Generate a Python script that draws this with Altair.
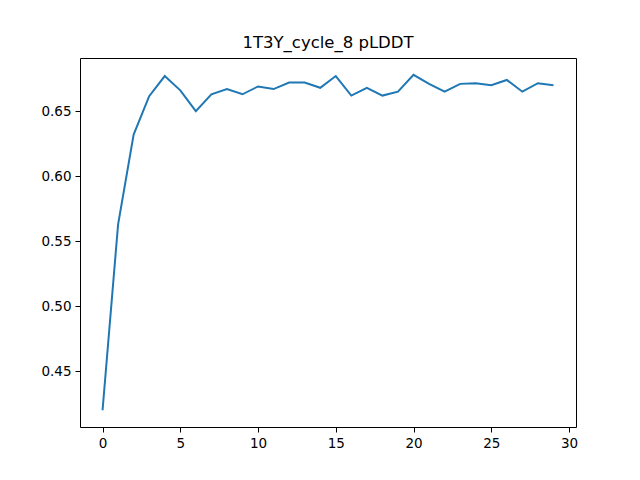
import altair as alt
import pandas as pd

cycles = list(range(30))
plddt = [0.420, 0.563, 0.632, 0.6615, 0.677, 0.666, 0.650, 0.663, 0.667, 0.663,
         0.669, 0.667, 0.672, 0.672, 0.668, 0.677, 0.662, 0.668, 0.662, 0.665,
         0.678, 0.671, 0.665, 0.671, 0.6715, 0.670, 0.674, 0.665, 0.6715, 0.670]
x_ticks = [0, 5, 10, 15, 20, 25, 30]
y_ticks = [0.45, 0.50, 0.55, 0.60, 0.65]

df = pd.DataFrame({'cycle': cycles, 'plddt': plddt})

axis_style = dict(grid=False, domain=False, tickColor='black', labelColor='black',
                  labelFontSize=13.5, labelFont='DejaVu Sans', tickSize=5,
                  labelPadding=4, title=None)

chart = alt.Chart(df).mark_line(color='#1f77b4', strokeWidth=2, clip=True).encode(
    x=alt.X('cycle:Q', scale=alt.Scale(domain=[-1.45, 30.45], nice=False, zero=False),
            axis=alt.Axis(values=x_ticks, format='d', **axis_style)),
    y=alt.Y('plddt:Q', scale=alt.Scale(domain=[0.4071, 0.6909], nice=False, zero=False),
            axis=alt.Axis(values=y_ticks, format='.2f', **axis_style)),
).properties(
    width=496,
    height=369,
    autosize=alt.AutoSizeParams(type='none'),
    padding={'left': 72, 'top': 50, 'right': 50, 'bottom': 40},
    title=alt.TitleParams('1T3Y_cycle_8 pLDDT', font='DejaVu Sans', fontSize=16.5,
                          fontWeight='normal', color='black', offset=7),
).configure_view(stroke='black', strokeWidth=1)

chart.save("out.html", embed_options={"renderer": "svg", "actions": False})
